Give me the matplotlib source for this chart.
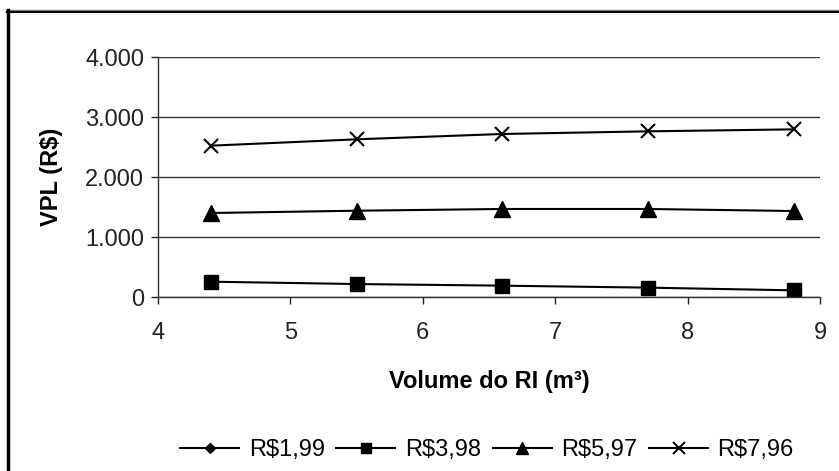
import numpy as np
import matplotlib.pyplot as plt
from matplotlib.lines import Line2D

plt.rcParams['font.family'] = ['Liberation Sans', 'DejaVu Sans']

# Volume do RI (m3)
volume = [4.4, 5.5, 6.6, 7.7, 8.8]

# VPL (R$) per price; R$1,99 falls below zero and is hidden by the axis
vpl_199 = [-880, -1000, -1090, -1160, -1210]
vpl_398 = [255, 216, 189, 156, 111]
vpl_597 = [1400, 1438, 1467, 1467, 1433]
vpl_796 = [2522, 2628, 2717, 2761, 2794]

labels = ['R$1,99', 'R$3,98', 'R$5,97', 'R$7,96']
y_ticks = [0, 1000, 2000, 3000, 4000]
y_tick_labels = ['0', '1.000', '2.000', '3.000', '4.000']

fig = plt.figure(figsize=(8.39, 4.71), dpi=100)
ax = fig.add_axes([158 / 839, 1 - 297 / 471, (820 - 158) / 839, 240 / 471])

ax.plot(volume, vpl_199, color='black', lw=1.5, marker='D', ms=7, label=labels[0])
ax.plot(volume, vpl_398, color='black', lw=1.5, marker='s', ms=9.5, label=labels[1])
ax.plot(volume, vpl_597, color='black', lw=1.5, marker='^', ms=11, label=labels[2])
ax.plot(volume, vpl_796, color='black', lw=1.5, marker='x', ms=10, mew=1.5, label=labels[3])

ax.set_xlim(4, 9)
ax.set_ylim(0, 4000)
ax.set_xticks([4, 5, 6, 7, 8, 9])
ax.set_yticks(y_ticks)
ax.set_yticklabels(y_tick_labels)
ax.yaxis.grid(True, color='#333333', lw=1)
ax.set_axisbelow(True)

for s in ['top', 'right']:
    ax.spines[s].set_visible(False)
for s in ['left', 'bottom']:
    ax.spines[s].set_color('#333333')
    ax.spines[s].set_linewidth(1)

ax.tick_params(axis='x', direction='out', length=5, width=1, pad=13, labelsize=17, colors='#222222')
ax.tick_params(axis='y', direction='out', length=5, width=1, pad=5, labelsize=17, colors='#222222')

ax.set_xlabel('Volume do RI (m³)', fontsize=17, fontweight='bold', labelpad=19)
ax.set_ylabel('VPL (R$)', fontsize=17, fontweight='bold', labelpad=16)

fig.legend(loc='center', bbox_to_anchor=(487 / 839, 1 - 450 / 471), ncol=4, frameon=False,
           fontsize=17, handlelength=2.5, handletextpad=0.4, columnspacing=0.5,
           markerscale=0.8)

# outer frame of the original picture
fig.add_artist(Line2D([6 / 839, 1], [1 - 9.5 / 471] * 2, transform=fig.transFigure, color='#888888', lw=1))
fig.add_artist(Line2D([7 / 839, 1], [1 - 12 / 471] * 2, transform=fig.transFigure, color='black', lw=1.5))
fig.add_artist(Line2D([7.5 / 839] * 2, [0, 1 - 9.5 / 471], transform=fig.transFigure, color='black', lw=2.5))

fig.savefig('out.png', dpi=100)
